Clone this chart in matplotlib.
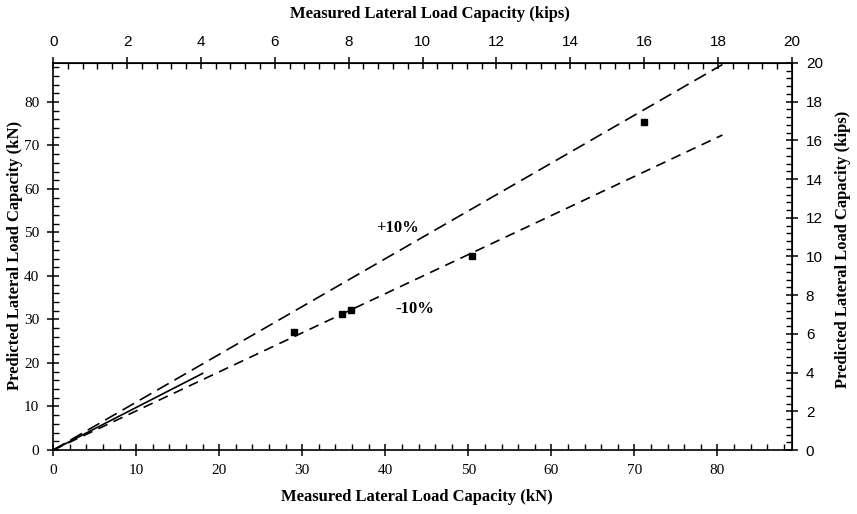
import matplotlib.pyplot as plt
from matplotlib.ticker import MultipleLocator

# datos (kN)
medido = [29.0, 34.8, 35.9, 50.4, 71.2]
predicho = [27.2, 31.3, 32.2, 44.5, 75.3]

# lineas de +10%, -10% y 1:1
lim_x = [0, 80.6]
sup_y = [0, 88.6]
inf_y = [0, 72.4]
uno_x = [0, 18.0]
uno_y = [0, 17.6]

# marcas de los ejes
ticks_kn = list(range(0, 90, 10))
ticks_kip = list(range(0, 21, 2))

KN_POR_KIP = 4.448
lim_kn = 20 * KN_POR_KIP

serif = 'Liberation Serif'
sans = 'Liberation Sans'

fig = plt.figure(figsize=(8.57, 5.14), dpi=100)
ax = fig.add_axes([0.062, 0.1245, 0.862, 0.753])

ax.plot(lim_x, sup_y, color='black', lw=1.2, dashes=(8, 4))
ax.plot(lim_x, inf_y, color='black', lw=1.2, dashes=(6, 4))
ax.plot(uno_x, uno_y, color='black', lw=1.2)
ax.plot(medido, predicho, 's', color='black', ms=5)

ax.text(41.5, 51, '+10%', fontsize=12, fontweight='bold', family=serif,
        ha='center', va='center')
ax.text(43.5, 32.5, '-10%', fontsize=12, fontweight='bold', family=serif,
        ha='center', va='center')

ax.set_xlim(0, lim_kn)
ax.set_ylim(0, lim_kn)

for s in ax.spines.values():
    s.set_linewidth(1.2)

ax.set_xticks(ticks_kn)
ax.set_yticks(ticks_kn)
ax.xaxis.set_minor_locator(MultipleLocator(2))
ax.yaxis.set_minor_locator(MultipleLocator(2))
ax.tick_params(which='major', direction='inout', length=8, width=1.1, pad=6)
ax.tick_params(which='minor', direction='in', length=4, width=1.0)
for lab in ax.get_xticklabels() + ax.get_yticklabels():
    lab.set_family(serif)
    lab.set_fontsize(11)


def kn_a_kip(v):
    return v / KN_POR_KIP


def kip_a_kn(v):
    return v * KN_POR_KIP


arriba = ax.secondary_xaxis('top', functions=(kn_a_kip, kip_a_kn))
derecha = ax.secondary_yaxis('right', functions=(kn_a_kip, kip_a_kn))
arriba.set_xticks(ticks_kip)
derecha.set_yticks(ticks_kip)
for eje in (arriba, derecha):
    eje.tick_params(which='major', direction='inout', length=8, width=1.1,
                    labelsize=11, pad=6)
    eje.tick_params(which='minor', direction='in', length=4, width=1.0)
arriba.xaxis.set_minor_locator(MultipleLocator(0.4))
derecha.yaxis.set_minor_locator(MultipleLocator(0.4))
for lab in arriba.get_xticklabels() + derecha.get_yticklabels():
    lab.set_family(sans)

# titulos de los ejes
estilo = dict(fontsize=12, fontweight='bold', family=serif,
              ha='center', va='center')
fig.text(0.487, 0.033, 'Measured Lateral Load Capacity (kN)', **estilo)
fig.text(0.502, 0.973, 'Measured Lateral Load Capacity (kips)', **estilo)
fig.text(0.017, 0.504, 'Predicted Lateral Load Capacity (kN)',
         rotation=90, **estilo)
fig.text(0.984, 0.515, 'Predicted Lateral Load Capacity (kips)',
         rotation=90, **estilo)

fig.savefig('out.png', dpi=100)
